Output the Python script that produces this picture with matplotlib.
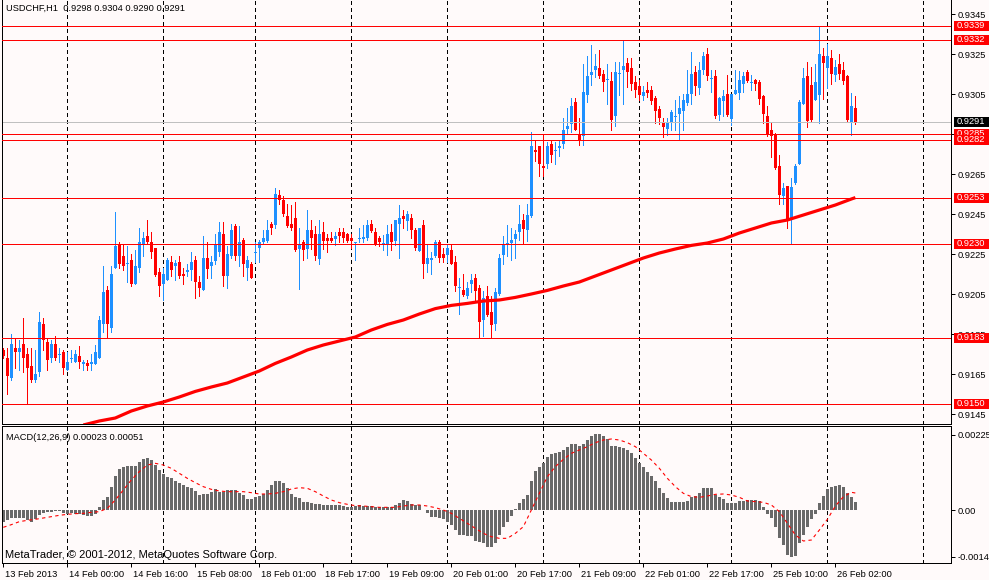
import matplotlib
matplotlib.use('Agg')
import matplotlib.pyplot as plt
import matplotlib.transforms as mtransforms
from matplotlib.patches import Rectangle
import numpy as np

# USDCHF H1 candles, bar 0 = 13 Feb 2013 08:00
opens = [
    0.9177, 0.9173, 0.9163, 0.9178, 0.9176, 0.9180, 0.9175, 0.9169, 0.9162, 0.9166,
    0.9190, 0.9181, 0.9173, 0.9180, 0.91745, 0.9176, 0.9167, 0.91725, 0.9171, 0.9174,
    0.9170, 0.91705, 0.9170, 0.9170, 0.9173, 0.9190, 0.9207, 0.9188, 0.9218, 0.9230,
    0.9224, 0.9220, 0.9222, 0.9210, 0.9218, 0.9230, 0.9234, 0.9231, 0.9228, 0.9216,
    0.9210, 0.9212, 0.9221, 0.9219, 0.9221, 0.9215, 0.9216, 0.9217, 0.9222, 0.9211,
    0.9207, 0.9223, 0.9219, 0.92215, 0.9226, 0.9235, 0.9214, 0.9224, 0.9239, 0.9224,
    0.9232, 0.9218, 0.9220, 0.92255, 0.9228, 0.9231, 0.92315, 0.9240, 0.92395, 0.92545,
    0.9252, 0.9244, 0.9240, 0.9243, 0.92275, 0.9231, 0.92275, 0.9237, 0.9235, 0.92225,
    0.9236, 0.9233, 0.9233, 0.92325, 0.9236, 0.9236, 0.9235, 0.9233, 0.92305, 0.92325,
    0.92325, 0.9233, 0.9240, 0.9236, 0.9233, 0.9230, 0.9230, 0.9236, 0.92315, 0.9240,
    0.9244, 0.92415, 0.9243, 0.9237, 0.92265, 0.92395, 0.9220, 0.9222, 0.9224, 0.9231,
    0.9225, 0.92245, 0.9227, 0.9221, 0.9208, 0.9207, 0.9204, 0.9210, 0.9213, 0.9208,
    0.9192, 0.9204, 0.9196, 0.9190, 0.9205, 0.92245, 0.92295, 0.92305, 0.92325, 0.9236,
    0.9242, 0.9237, 0.9244, 0.9277, 0.9279, 0.9269, 0.9270, 0.9280, 0.92765, 0.9278,
    0.9280, 0.92875, 0.9290, 0.9301, 0.9285, 0.9284, 0.93045, 0.93145, 0.9317, 0.9318,
    0.9315, 0.9312, 0.93115, 0.9294, 0.9315, 0.9317, 0.93205, 0.9318, 0.9311, 0.9309,
    0.9304, 0.9307, 0.9307, 0.9303, 0.92975, 0.9291, 0.92875, 0.92905, 0.92935, 0.9295,
    0.92965, 0.93005, 0.9305, 0.9316, 0.9308, 0.9317, 0.9325, 0.93125, 0.9314, 0.92945,
    0.93015, 0.9305, 0.92925, 0.9305, 0.93055, 0.9310, 0.9316, 0.93105, 0.9312, 0.9311,
    0.9304, 0.9294, 0.9287, 0.9285, 0.9269, 0.9254, 0.9259, 0.9242, 0.92605, 0.9270,
    0.9300, 0.9314, 0.93095, 0.9302, 0.93045, 0.9324, 0.9318, 0.9323, 0.93145, 0.9320,
    0.9317, 0.9314, 0.92905, 0.9298,
]
highs = [
    0.9178, 0.9178, 0.9185, 0.9183, 0.9182, 0.9193, 0.9178, 0.9178, 0.9177, 0.9196,
    0.9193, 0.9183, 0.9182, 0.9184, 0.9178, 0.9177, 0.9176, 0.9177, 0.9177, 0.9179,
    0.9172, 0.9172, 0.9175, 0.91795, 0.9194, 0.9219, 0.9209, 0.9219, 0.9246, 0.9231,
    0.9230, 0.9229, 0.9225, 0.9227, 0.9238, 0.9236, 0.9242, 0.9236, 0.9228, 0.9218,
    0.9218, 0.9223, 0.9224, 0.9222, 0.9224, 0.9218, 0.9220, 0.9226, 0.9224, 0.9214,
    0.9234, 0.9231, 0.9224, 0.9235, 0.9241, 0.9241, 0.9229, 0.9240, 0.9240, 0.9239,
    0.9233, 0.9224, 0.9221, 0.9231, 0.9232, 0.9237, 0.9242, 0.9241, 0.9258, 0.9257,
    0.9254, 0.9250, 0.92495, 0.9251, 0.9238, 0.9232, 0.9247, 0.9242, 0.9239, 0.9242,
    0.9241, 0.9235, 0.9236, 0.9236, 0.9238, 0.9238, 0.92355, 0.9235, 0.9231, 0.9238,
    0.92395, 0.9242, 0.9242, 0.9238, 0.9234, 0.92345, 0.92395, 0.9240, 0.9242, 0.92495,
    0.9247, 0.92465, 0.9245, 0.9238, 0.9238, 0.9242, 0.92295, 0.9226, 0.9232, 0.9232,
    0.9228, 0.9230, 0.92295, 0.9224, 0.9213, 0.9215, 0.9211, 0.9215, 0.9215, 0.92095,
    0.92065, 0.9209, 0.9204, 0.9208, 0.9225, 0.9234, 0.92395, 0.9238, 0.9237, 0.92495,
    0.9245, 0.9250, 0.9286, 0.9282, 0.9279, 0.9285, 0.9281, 0.9282, 0.9281, 0.92815,
    0.9293, 0.9298, 0.9303, 0.9303, 0.9293, 0.9320, 0.9324, 0.93295, 0.9325, 0.9327,
    0.9317, 0.9320, 0.9316, 0.9321, 0.9321, 0.9332, 0.9323, 0.9323, 0.9314, 0.9312,
    0.9309, 0.9311, 0.9309, 0.9304, 0.9299, 0.9293, 0.9293, 0.9297, 0.9302, 0.9304,
    0.9305, 0.9317, 0.9326, 0.9319, 0.9321, 0.9326, 0.9328, 0.9317, 0.9317, 0.93035,
    0.9307, 0.93145, 0.9305, 0.9317, 0.93167, 0.9316, 0.9317, 0.93145, 0.93125, 0.9312,
    0.93045, 0.9299, 0.9291, 0.92855, 0.92745, 0.92605, 0.9259, 0.9263, 0.9270, 0.9302,
    0.9318, 0.9321, 0.93185, 0.9320, 0.9339, 0.9328, 0.9330, 0.9327, 0.9322, 0.9325,
    0.9321, 0.93145, 0.93055, 0.9304,
]
lows = [
    0.9173, 0.9155, 0.9162, 0.9168, 0.9167, 0.9166, 0.9150, 0.9161, 0.9161, 0.9164,
    0.9177, 0.9167, 0.9171, 0.9172, 0.9171, 0.9165, 0.9167, 0.9171, 0.9171, 0.9168,
    0.9167, 0.9167, 0.9167, 0.9170, 0.9173, 0.9186, 0.9183, 0.9186, 0.9218, 0.9218,
    0.9217, 0.9211, 0.9209, 0.9210, 0.9216, 0.9224, 0.9230, 0.9223, 0.9214, 0.9204,
    0.9202, 0.9212, 0.9214, 0.9212, 0.9213, 0.9210, 0.9214, 0.9212, 0.9203, 0.9204,
    0.9207, 0.9213, 0.9213, 0.9220, 0.9224, 0.9209, 0.9208, 0.9223, 0.9222, 0.9219,
    0.9214, 0.9212, 0.9213, 0.9221, 0.9221, 0.9230, 0.9231, 0.9235, 0.9238, 0.9250,
    0.9244, 0.92385, 0.9237, 0.92265, 0.92075, 0.9222, 0.9223, 0.92275, 0.9222, 0.9220,
    0.92275, 0.9226, 0.9231, 0.92295, 0.9231, 0.9231, 0.9231, 0.9228, 0.9222, 0.9231,
    0.9231, 0.9232, 0.9236, 0.92295, 0.9229, 0.9227, 0.92245, 0.9227, 0.92295, 0.9223,
    0.9238, 0.9237, 0.9233, 0.9227, 0.92265, 0.9213, 0.9216, 0.9215, 0.92235, 0.9221,
    0.9221, 0.9221, 0.9220, 0.92065, 0.9195, 0.9204, 0.9203, 0.9206, 0.9201, 0.9183,
    0.9184, 0.9194, 0.9183, 0.9187, 0.92045, 0.9220, 0.9224, 0.9222, 0.9223, 0.9232,
    0.9230, 0.92315, 0.92435, 0.92715, 0.9264, 0.9264, 0.9268, 0.9271, 0.9270, 0.9274,
    0.9278, 0.9285, 0.9286, 0.9287, 0.92795, 0.92795, 0.9301, 0.93095, 0.93135, 0.9313,
    0.93065, 0.9300, 0.9287, 0.9289, 0.93045, 0.9300, 0.93085, 0.9307, 0.93035, 0.9302,
    0.9302, 0.93035, 0.9300, 0.92905, 0.9290, 0.92835, 0.92845, 0.9287, 0.9287, 0.9282,
    0.9287, 0.92995, 0.9300, 0.93045, 0.9305, 0.9315, 0.9312, 0.9306, 0.9293, 0.9292,
    0.9294, 0.9294, 0.92895, 0.9305, 0.93025, 0.9306, 0.9311, 0.9307, 0.9307, 0.9300,
    0.92905, 0.9284, 0.92735, 0.92675, 0.9250, 0.9250, 0.9238, 0.9230, 0.9260, 0.9270,
    0.9300, 0.92885, 0.9291, 0.9302, 0.92905, 0.93025, 0.9308, 0.9310, 0.93115, 0.93125,
    0.9310, 0.92915, 0.92845, 0.9290,
]
closes = [
    0.9174, 0.9164, 0.9180, 0.9176, 0.9178, 0.9173, 0.9168, 0.9162, 0.9165, 0.9191,
    0.9182, 0.9172, 0.9180, 0.9173, 0.9175, 0.9168, 0.9171, 0.9173, 0.9175, 0.9171,
    0.9171, 0.9169, 0.9171, 0.9176, 0.9192, 0.9206, 0.9190, 0.9215, 0.9229, 0.9220,
    0.9219, 0.92205, 0.9210, 0.9219, 0.9231, 0.9233, 0.9231, 0.9226, 0.92145, 0.9209,
    0.9215, 0.9222, 0.9217, 0.92205, 0.9214, 0.9214, 0.9217, 0.9221, 0.9211, 0.9208,
    0.9223, 0.92175, 0.9221, 0.9230, 0.9236, 0.9214, 0.9225, 0.9237, 0.9224, 0.9231,
    0.9220, 0.9222, 0.9213, 0.9226, 0.9231, 0.9233, 0.9237, 0.9238, 0.9255, 0.9252,
    0.9245, 0.9239, 0.9238, 0.9227, 0.92295, 0.9227, 0.9237, 0.9233, 0.9224, 0.9235,
    0.92315, 0.92315, 0.92315, 0.9234, 0.9234, 0.9233, 0.92315, 0.92315, 0.9231, 0.9233,
    0.92335, 0.92395, 0.92365, 0.9230, 0.9231, 0.92305, 0.9235, 0.9231, 0.9242, 0.9243,
    0.92425, 0.9245, 0.9237, 0.9228, 0.9238, 0.9220, 0.9223, 0.9223, 0.9231, 0.9223,
    0.9223, 0.9228, 0.9220, 0.9209, 0.92085, 0.92045, 0.9208, 0.9212, 0.92065, 0.9191,
    0.9203, 0.91945, 0.91895, 0.9206, 0.9223, 0.9230, 0.92305, 0.9232, 0.9235, 0.9240,
    0.92375, 0.92445, 0.9279, 0.9276, 0.9270, 0.9268, 0.9279, 0.92745, 0.9277, 0.9279,
    0.9287, 0.9289, 0.9299, 0.9287, 0.9282, 0.9306, 0.9314, 0.9316, 0.9319, 0.9314,
    0.9311, 0.93125, 0.9292, 0.9316, 0.93155, 0.9319, 0.9316, 0.9310, 0.9307, 0.93045,
    0.9306, 0.93055, 0.93015, 0.92965, 0.9293, 0.92885, 0.92905, 0.9296, 0.9294, 0.9298,
    0.9302, 0.9305, 0.9315, 0.9309, 0.9317, 0.9324, 0.9314, 0.9313, 0.9294, 0.9303,
    0.9304, 0.92945, 0.9305, 0.9307, 0.9312, 0.9314, 0.93115, 0.9311, 0.9310, 0.93025,
    0.9295, 0.9285, 0.9284, 0.9268, 0.92545, 0.9258, 0.9242, 0.92585, 0.9269, 0.9301,
    0.9313, 0.92915, 0.9292, 0.9311, 0.9325, 0.93205, 0.9324, 0.9315, 0.93185, 0.9315,
    0.93115, 0.9292, 0.9299, 0.9291,
]

# red moving average, read every 4 bars
ma_bars = [20, 24, 28, 32, 36, 40, 44, 48, 52, 56, 60, 64, 68, 72, 76, 80, 84, 88, 92, 96,
           100, 104, 108, 112, 116, 120, 124, 128, 132, 136, 140, 144, 148, 152, 156, 160,
           164, 168, 172, 176, 180, 184, 188, 192, 196, 200, 204, 208, 212, 213]
ma_vals = [0.91395, 0.91415, 0.9143, 0.91465, 0.9149, 0.9151, 0.91535, 0.91563, 0.91585, 0.91605,
           0.91635, 0.91665, 0.91703, 0.91735, 0.9177, 0.91795, 0.91815, 0.91835, 0.9187, 0.91898,
           0.9192, 0.9195, 0.91977, 0.91993, 0.92003, 0.92015, 0.9202, 0.92033, 0.9205, 0.92068,
           0.9209, 0.9211, 0.9214, 0.9217, 0.9220, 0.9223, 0.92255, 0.92275, 0.92293, 0.92305,
           0.92325, 0.92355, 0.9238, 0.92405, 0.9242, 0.92445, 0.9247, 0.92495, 0.92525, 0.92532]

# horizontal levels (red lines) and current bid
levels = [0.9339, 0.9332, 0.9285, 0.9282, 0.9253, 0.9230, 0.9183, 0.9150]
bid = 0.9291
price_ticks = [0.9345, 0.9325, 0.9305, 0.9285, 0.9265, 0.9245, 0.9225, 0.9205, 0.9185, 0.9165, 0.9145]

# MACD(12,26,9) main histogram per bar
macd_hist = [
    -0.00035, -0.00030, -0.00025, -0.00023, -0.00023, -0.00025, -0.00030, -0.00035, -0.00028, -0.00015,
    -0.00010, -0.00005, -0.00005, -0.00003, -0.00002, -0.00010, -0.00013, -0.00010, -0.00012, -0.00013,
    -0.00015, -0.00017, -0.00017, -0.00012, 0.00008, 0.00030, 0.00038, 0.00070, 0.00102, 0.00122,
    0.00130, 0.00133, 0.00133, 0.00133, 0.00145, 0.00153, 0.00155, 0.00150, 0.00135, 0.00120,
    0.00107, 0.00100, 0.00095, 0.00087, 0.00080, 0.00075, 0.00070, 0.00065, 0.00058, 0.00045,
    0.00048, 0.00048, 0.00055, 0.00063, 0.00055, 0.00055, 0.00060, 0.00060, 0.00060, 0.00052,
    0.00045, 0.00033, 0.00033, 0.00040, 0.00043, 0.00048, 0.00060, 0.00075, 0.00087, 0.00087,
    0.00080, 0.00065, 0.00048, 0.00038, 0.00035, 0.00025, 0.00023, 0.00022, 0.00018, 0.00017,
    0.00016, 0.00016, 0.00016, 0.00016, 0.00016, 0.00012, 0.00010, 0.00010, 0.00013, 0.00015,
    0.00013, 0.00012, 0.00012, 0.00010, 0.00008, 0.00008, 0.00008, 0.00010, 0.00014, 0.00020,
    0.00030, 0.00027, 0.00018, 0.00015, 0.00015, -0.00001, -0.00008, -0.00020, -0.00022, -0.00023,
    -0.00027, -0.00035, -0.00045, -0.00060, -0.00075, -0.00075, -0.00077, -0.00078, -0.00093, -0.00095,
    -0.00098, -0.00110, -0.00110, -0.00100, -0.00075, -0.00052, -0.00035, -0.00018, 0.00002, 0.00020,
    0.00032, 0.00045, 0.00087, 0.00117, 0.00130, 0.00142, 0.00160, 0.00167, 0.00170, 0.00175,
    0.00180, 0.00188, 0.00198, 0.00197, 0.00192, 0.00198, 0.00210, 0.00222, 0.00228, 0.00228,
    0.00222, 0.00212, 0.00192, 0.00192, 0.00188, 0.00185, 0.00180, 0.00170, 0.00155, 0.00140,
    0.00128, 0.00115, 0.00102, 0.00087, 0.00065, 0.00050, 0.00035, 0.00025, 0.00025, 0.00025,
    0.00025, 0.00028, 0.00040, 0.00042, 0.00052, 0.00065, 0.00065, 0.00065, 0.00045, 0.00040,
    0.00032, 0.00022, 0.00020, 0.00020, 0.00027, 0.00028, 0.00030, 0.00030, 0.00030, 0.00028,
    0.00008, -0.00012, -0.00025, -0.00050, -0.00085, -0.00105, -0.00135, -0.00140, -0.00138, -0.00100,
    -0.00075, -0.00052, -0.00027, -0.00013, 0.00022, 0.00042, 0.00062, 0.00068, 0.00073, 0.00075,
    0.00070, 0.00052, 0.00040, 0.00023,
]
# signal line, read every 2 bars
sig_bars = list(range(0, 213, 2)) + [213]
sig_vals = [
    -0.00052, -0.00044, -0.00035, -0.00031, -0.00028, -0.00024, -0.00020, -0.00016, -0.00013, -0.00011,
    -0.00010, -0.00007, -0.00005, 0.00005, 0.00030, 0.00060, 0.00090, 0.00115, 0.00135, 0.00140,
    0.00135, 0.00125, 0.00110, 0.00095, 0.00082, 0.00070, 0.00062, 0.00057, 0.00055, 0.00055,
    0.00055, 0.00052, 0.00048, 0.00048, 0.00050, 0.00055, 0.00063, 0.00067, 0.00065, 0.00055,
    0.00042, 0.00030, 0.00022, 0.00017, 0.00013, 0.00012, 0.00010, 0.00008, 0.00008, 0.00008,
    0.00012, 0.00015, 0.00015, 0.00012, 0.00007, 0.00000, -0.00010, -0.00025, -0.00040, -0.00055,
    -0.00070, -0.00080, -0.00085, -0.00085, -0.00070, -0.00050, 0.00000, 0.00050, 0.00100, 0.00130,
    0.00152, 0.00170, 0.00180, 0.00190, 0.00202, 0.00210, 0.00213, 0.00210, 0.00202, 0.00190,
    0.00170, 0.00150, 0.00125, 0.00095, 0.00070, 0.00050, 0.00040, 0.00038, 0.00042, 0.00047,
    0.00048, 0.00045, 0.00038, 0.00027, 0.00025, 0.00023, 0.00015, -0.00005, -0.00040, -0.00075,
    -0.00093, -0.00090, -0.00060, -0.00028, 0.00012, 0.00040, 0.00053, 0.00051,
]

tick_bars = list(range(0, 209, 16))
tick_labels = ['13 Feb 2013', '14 Feb 00:00', '14 Feb 16:00', '15 Feb 08:00', '18 Feb 01:00',
               '18 Feb 17:00', '19 Feb 09:00', '20 Feb 01:00', '20 Feb 17:00', '21 Feb 09:00',
               '22 Feb 01:00', '22 Feb 17:00', '25 Feb 10:00', '26 Feb 02:00']
grid_bars = [16, 40, 63, 87, 111, 135, 159, 182, 206, 230]

BG = '#FFFAFA'
BULL = '#1E90FF'
BEAR = '#FF0000'
W, H = 989, 580
PX = 0.72  # one pixel in points

plt.rcParams['font.family'] = ['Liberation Sans', 'DejaVu Sans']
FS = 6.7


def px_rect(x0, y0, x1, y1):
    return [x0 / W, 1 - y1 / H, (x1 - x0) / W, (y1 - y0) / H]


fig = plt.figure(figsize=(W / 100, H / 100), dpi=100, facecolor=BG)
ax = fig.add_axes(px_rect(2, 0, 951, 424), facecolor=BG)
axm = fig.add_axes(px_rect(2, 426, 951, 563), facecolor=BG)

xlim = (-0.325, 236.9)
for a in (ax, axm):
    a.set_xlim(*xlim)
    for s in a.spines.values():
        s.set_linewidth(PX)
        s.set_color('black')
    for g in grid_bars:
        a.axvline(g, color='black', lw=PX, ls=(0, (3, 3)), zorder=1, antialiased=False)
ax.spines['top'].set_visible(False)

# --- price panel ---
ax.set_ylim(0.9140, 0.9352)
o = np.array(opens)
hi = np.array(highs)
lo = np.array(lows)
c = np.array(closes)
x = np.arange(len(c))
col = np.where(c >= o, BULL, BEAR)
ax.vlines(x, lo, hi, colors=col, lw=PX, zorder=2, antialiased=False)
body_h = np.maximum(np.abs(c - o), 0.00005)
ax.bar(x, body_h, bottom=np.minimum(o, c), width=0.75, color=col, linewidth=0,
       zorder=2, antialiased=False)

ax.axhline(bid, color='#C0C0C0', lw=PX, zorder=2.5, antialiased=False)
for lv in levels:
    ax.axhline(lv, color='red', lw=PX, zorder=3, antialiased=False)
ax.plot(ma_bars, ma_vals, color='red', lw=2.3, zorder=3.5, solid_capstyle='butt')

ax.set_xticks([])
ax.yaxis.tick_right()
ax.set_yticks(price_ticks)
ax.set_yticklabels([f'{v:.4f}' for v in price_ticks])
ax.tick_params(axis='y', direction='out', length=3, width=PX, pad=2, labelsize=FS)

trans = mtransforms.blended_transform_factory(ax.transAxes, ax.transData)
box_h = 0.0005
bx0 = (954 - 2) / 949
bw = (989 - 954) / 949
tags = [(lv, 'red') for lv in levels] + [(bid, 'black')]
for k, (lv, fc) in enumerate(tags):
    ax.add_patch(Rectangle((bx0, lv - box_h / 2), bw, box_h, transform=trans, fc=fc, ec='none',
                           clip_on=False, zorder=5 + k))
    ax.text((957 - 2) / 949, lv, f'{lv:.4f}', transform=trans, color='white', fontsize=FS,
            va='center', ha='left', clip_on=False, zorder=5.5 + k)

fig.text(6 / W, 1 - 8 / H, 'USDCHF,H1  0.9298 0.9304 0.9290 0.9291', fontsize=FS, va='center')

# --- MACD panel ---
axm.set_ylim(-0.00159, 0.00252)
axm.bar(x, macd_hist, width=0.75, color='#696969', linewidth=0, zorder=2, antialiased=False)
axm.plot(sig_bars, sig_vals, color='red', lw=0.8, ls=(0, (3, 3)), zorder=3)
axm.yaxis.tick_right()
axm.set_yticks([0.00225, 0.0, -0.00141])
axm.set_yticklabels(['0.00225', '0.00', '-0.00141'])
axm.tick_params(axis='y', direction='out', length=3, width=PX, pad=2, labelsize=FS)
axm.set_xticks(tick_bars)
axm.set_xticklabels(tick_labels, ha='left')
axm.tick_params(axis='x', direction='out', length=3, width=PX, pad=2, labelsize=FS)
shift = mtransforms.ScaledTranslation(1.5 / 100, 0, fig.dpi_scale_trans)
for lbl in axm.get_xticklabels():
    lbl.set_transform(lbl.get_transform() + shift)

fig.text(6 / W, 1 - 437 / H, 'MACD(12,26,9) 0.00023 0.00051', fontsize=FS, va='center')
fig.text(5 / W, 1 - 555 / H, 'MetaTrader, © 2001-2012, MetaQuotes Software Corp.', fontsize=8,
         va='center')

fig.savefig('out.png', dpi=100, facecolor=BG)
